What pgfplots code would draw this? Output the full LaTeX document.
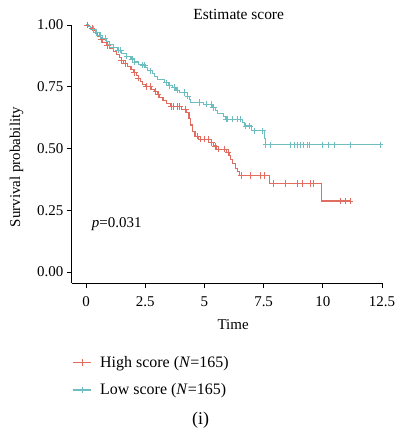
\documentclass[border=0pt]{standalone}
\usepackage{pgfplots}
\pgfplotsset{compat=1.18}
\usepackage{fontspec}
\setmainfont{Liberation Serif}
\definecolor{hi}{RGB}{226,108,96}
\definecolor{lo}{RGB}{110,190,193}
\begin{document}
\begin{tikzpicture}
\begin{axis}[
  at={(0,0)}, anchor=south west,
  scale only axis, width=311pt, height=259pt,
  xmin=-0.6, xmax=12.5, ymin=-0.046, ymax=1.0,
  axis x line=bottom, axis y line=left,
  axis line style={-, line width=0.8pt, black},
  xtick={0,2.5,5,7.5,10,12.5},
  xticklabels={0,2.5,5,7.5,10,12.5},
  ytick={0,0.25,0.5,0.75,1},
  yticklabels={0.00,0.25,0.50,0.75,1.00},
  tick align=outside, major tick length=5pt,
  tick style={black, line width=0.8pt},
  ticklabel style={font=\fontsize{15}{17}\selectfont},
  xticklabel style={yshift=-4.5pt},
  /pgf/number format/assume math mode=true,
  xlabel={Time}, ylabel={Survival probability},
  label style={font=\fontsize{15}{17}\selectfont},
  xlabel style={at={(axis description cs:0.52,0)}, anchor=base, yshift=-46pt},
  ylabel style={at={(axis description cs:-0.178,0.45)}, anchor=center},
  title={Estimate score},
  title style={at={(axis description cs:0.538,1)}, anchor=base, yshift=-1pt, font=\fontsize{15.5}{17}\selectfont},
  clip=false,
  legend style={draw=none, at={(axis description cs:-0.01,-0.266)}, anchor=north west,
    font=\fontsize{16}{18}\selectfont, row sep=11pt, fill=none},
  legend cell align=left,
  legend image code/.code={\draw[mark repeat=2,mark phase=2,#1] plot coordinates {(0cm,0cm) (0.33cm,0cm) (0.66cm,0cm)};},
]
\addplot[hi, line width=1.1pt, const plot, mark=none, forget plot] coordinates {
(0,1.000) (0.08,0.994) (0.18,0.988) (0.28,0.976) (0.4,0.964) (0.5,0.952)
(0.6,0.940) (0.7,0.928) (0.85,0.916) (1.0,0.904) (1.15,0.892) (1.3,0.880)
(1.4,0.868) (1.5,0.856) (1.6,0.844) (1.75,0.832) (1.9,0.820) (2.0,0.808)
(2.12,0.796) (2.2,0.784) (2.3,0.772) (2.4,0.760) (2.5,0.750) (2.75,0.740)
(2.9,0.730) (3.0,0.718) (3.1,0.706) (3.25,0.694) (3.4,0.682) (3.55,0.670)
(4.05,0.658) (4.25,0.645) (4.35,0.620) (4.42,0.595) (4.5,0.570) (4.6,0.550)
(4.75,0.537) (5.3,0.524) (5.4,0.510) (5.5,0.497) (5.95,0.484) (6.05,0.470)
(6.12,0.455) (6.2,0.440) (6.3,0.420) (6.4,0.405) (6.48,0.390) (7.75,0.358)
(9.95,0.287) (11.2,0.287)
};
\addplot[hi, only marks, mark=+, mark size=3.2pt, line width=0.8pt, forget plot] coordinates {
(0.05,1.0) (0.25,0.988) (0.65,0.940) (0.9,0.916) (1.5,0.856) (1.65,0.844)
(2.05,0.808) (2.2,0.784) (2.55,0.750) (2.7,0.750) (2.95,0.730) (3.05,0.718)
(3.6,0.670) (3.7,0.670) (3.85,0.670) (3.95,0.670) (4.2,0.658) (4.7,0.550)
(4.85,0.537) (5.0,0.537) (5.15,0.537) (5.3,0.524) (5.45,0.510) (5.6,0.497)
(5.85,0.497) (6.0,0.484) (6.55,0.390) (6.95,0.390) (7.38,0.390) (7.52,0.390)
(7.91,0.358) (8.4,0.358) (8.92,0.358) (9.13,0.358) (9.48,0.358) (9.62,0.358)
(10.74,0.287) (10.95,0.287) (11.16,0.287)
};
\addplot[lo, line width=1.1pt, const plot, mark=none, forget plot] coordinates {
(0,1.000) (0.1,0.994) (0.2,0.988) (0.3,0.982) (0.4,0.970) (0.55,0.958)
(0.7,0.946) (0.85,0.934) (1.0,0.922) (1.15,0.910) (1.35,0.898) (1.5,0.886)
(1.7,0.874) (1.9,0.862) (2.05,0.850) (2.2,0.838) (2.5,0.826) (2.6,0.814)
(2.8,0.802) (2.9,0.790) (3.0,0.778) (3.3,0.766) (3.5,0.754) (3.65,0.746)
(3.8,0.736) (3.95,0.726) (4.3,0.712) (4.37,0.698) (4.42,0.686) (4.95,0.679)
(5.35,0.666) (5.45,0.652) (5.55,0.640) (5.8,0.628) (5.9,0.618) (6.6,0.605)
(6.7,0.591) (7.0,0.571) (7.55,0.540) (7.58,0.515) (12.45,0.515)
};
\addplot[lo, only marks, mark=+, mark size=3.2pt, line width=0.8pt, forget plot] coordinates {
(0.3,0.982) (0.45,0.970) (0.6,0.958) (0.8,0.946) (1.0,0.922) (1.15,0.910)
(1.36,0.898) (1.45,0.898) (1.72,0.874) (1.95,0.862) (2.06,0.850) (2.4,0.838)
(2.48,0.838) (2.7,0.814) (3.4,0.766) (3.53,0.754) (3.72,0.746) (3.85,0.736)
(4.15,0.726) (4.3,0.712) (4.8,0.686) (5.07,0.679) (5.28,0.679) (5.38,0.666)
(5.91,0.618) (5.98,0.618) (6.2,0.618) (6.4,0.618) (6.5,0.618) (6.75,0.591)
(6.9,0.591) (7.1,0.571) (7.45,0.571) (7.59,0.515) (7.8,0.515) (8.64,0.515)
(8.78,0.515) (8.92,0.515) (9.06,0.515) (9.2,0.515) (9.34,0.515) (9.44,0.515)
(9.97,0.515) (10.25,0.515) (10.5,0.515) (11.16,0.515) (12.42,0.515)
};
\addlegendimage{hi, line width=1.6pt, mark=+, mark size=3.2pt, mark options={line width=0.8pt}}
\addlegendentry{\hspace{6pt}High score (\textit{N}=165)}
\addlegendimage{lo, line width=1.6pt, mark=+, mark size=3.2pt, mark options={line width=0.8pt}}
\addlegendentry{\hspace{6pt}Low score (\textit{N}=165)}
\node[anchor=base west, font=\fontsize{15}{17}\selectfont] at (axis cs:0.1,0.18) {\textit{p}=0.031};
\node[anchor=base, font=\fontsize{18}{20}\selectfont] at (axis description cs:0.415,-0.548) {(i)};
\end{axis}
\path[use as bounding box] (-72pt,-148pt) rectangle (321pt,284pt);
\end{tikzpicture}
\end{document}
